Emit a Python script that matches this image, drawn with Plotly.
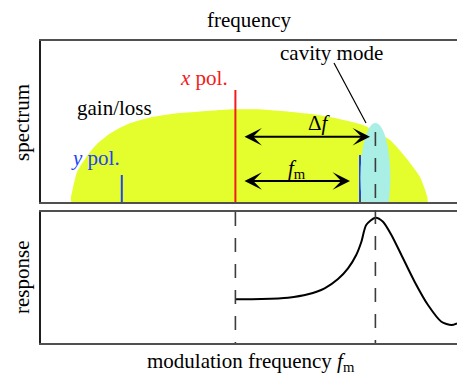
import plotly.graph_objects as go

# --- spectrum panel (frequency in arbitrary units) ---
f_ypol = 2.02      # y-polarised mode
f_xpol = 4.86      # x-polarised mode
f_ysb = 7.975      # y-polarised line at f_x + f_m
f_cav = 8.36       # cavity mode
amp_ypol = 0.27
amp_xpol = 1.12
amp_ysb = 0.47

# gain/loss profile
gain_f = [0.76, 0.8, 0.9, 1.15, 1.4, 1.725, 2.175, 2.725, 3.35, 3.975,
          4.725, 5.475, 6.15, 6.85, 7.4, 8.05, 8.725, 9.15, 9.475, 9.62, 9.66]
gain_h = [0.0, 0.14, 0.3, 0.46, 0.58, 0.685, 0.78, 0.845, 0.885, 0.905,
          0.925, 0.925, 0.905, 0.875, 0.835, 0.77, 0.62, 0.43, 0.25, 0.1, 0.0]

# --- modulation response panel ---
resp_f = [4.86, 5.51, 6.175, 6.675, 7.09, 7.425, 7.675, 7.88, 8.01, 8.13, 8.36,
          8.55, 8.76, 9.01, 9.34, 9.675, 10.01, 10.26, 10.4]
resp_v = [0.437, 0.44, 0.453, 0.487, 0.547, 0.64, 0.747, 0.88, 1.013, 1.18, 1.253,
          1.213, 1.08, 0.88, 0.613, 0.38, 0.213, 0.18, 0.197]

SERIF = "Liberation Serif"
RED = "#f21b1b"
BLUE = "#2145f5"
YELLOW = "#e4fd2c"
CYAN = "#a9efe5"

TOP = [141 / 302, 1.0]
BOT = [0.0, 131 / 302]

fig = go.Figure()

# gain/loss region
fig.add_trace(go.Scatter(
    x=gain_f + [gain_f[0]], y=gain_h + [gain_h[0]],
    mode="lines", line=dict(width=0, shape="spline", smoothing=0.5),
    fill="toself", fillcolor=YELLOW, hoverinfo="skip",
    xaxis="x", yaxis="y"))

# spectral lines
for f, a, c in [(f_ypol, amp_ypol, BLUE), (f_xpol, amp_xpol, RED), (f_ysb, amp_ysb, BLUE)]:
    fig.add_trace(go.Scatter(x=[f, f], y=[0, a], mode="lines",
                             line=dict(color=c, width=2), xaxis="x", yaxis="y"))

# modulation response
fig.add_trace(go.Scatter(
    x=resp_f, y=resp_v, mode="lines",
    line=dict(color="black", width=2, shape="spline", smoothing=0.7),
    xaxis="x2", yaxis="y2"))

shapes = [
    # cavity mode
    dict(type="circle", xref="x", yref="y", layer="above",
         x0=f_cav - 0.375, x1=f_cav + 0.375, y0=-0.3, y1=0.79,
         fillcolor=CYAN, line=dict(width=0)),
    # leader line to the cavity mode label
    dict(type="line", xref="x", yref="y", layer="above",
         x0=7.325, y0=1.39, x1=8.125, y1=0.79,
         line=dict(color="black", width=1.2)),
    # dashed markers
    dict(type="line", xref="x", yref="paper", layer="above",
         x0=f_cav, x1=f_cav, y0=0.6987, y1=0.0,
         line=dict(color="#3c3c3c", width=1.6, dash="14px,12px")),
    dict(type="line", xref="x", yref="paper", layer="above",
         x0=f_xpol, x1=f_xpol, y0=BOT[1], y1=0.0,
         line=dict(color="#3c3c3c", width=1.6, dash="14px,12px")),
]

ann = []


def arrow(x0, x1, y):
    return dict(x=x1, y=y, ax=x0, ay=y, xref="x", yref="y", axref="x", ayref="y",
                text="", showarrow=True, arrowside="end+start",
                arrowhead=3, startarrowhead=3, arrowsize=1.45, startarrowsize=1.45,
                arrowwidth=2, arrowcolor="black", standoff=0, startstandoff=0)


ann.append(arrow(5.05, 8.225, 0.653))
ann.append(arrow(5.05, 7.725, 0.21))


def label(text, x, y, color="black", xref="x", yref="y", angle=0):
    return dict(text=text, x=x, y=y, xref=xref, yref=yref, showarrow=False,
                xanchor="center", yanchor="middle", textangle=angle,
                font=dict(family=SERIF, size=21, color=color))


ann += [
    label("Δ<i>f</i>", 6.96, 0.79),
    label("<i>f</i><sub>m</sub>", 6.4, 0.33),
    label("cavity mode", 7.25, 1.49),
    label("<i>x</i> pol.", 4.075, 1.24, RED),
    label("gain/loss", 1.825, 0.94),
    label("<i>y</i> pol.", 1.3625, 0.44, BLUE),
    label("frequency", 0.5, 1.0695, xref="paper", yref="paper"),
    label("modulation frequency <i>f</i><sub>m</sub>", 0.505, -0.063, xref="paper", yref="paper"),
    label("spectrum", -0.0457, 0.732, xref="paper", yref="paper", angle=-90),
    label("response", -0.0457, 0.2185, xref="paper", yref="paper", angle=-90),
]

xax = dict(range=[0, 10.4], showgrid=False, zeroline=False, showticklabels=False,
           ticks="", showline=True, mirror=True, linecolor="#505050", linewidth=2,
           fixedrange=True)
yax = dict(showgrid=False, zeroline=False, showticklabels=False, ticks="",
           showline=True, mirror=False, linecolor="#1e1e1e", linewidth=2,
           fixedrange=True)

fig.update_layout(
    width=457, height=376,
    margin=dict(l=41, r=0, t=41, b=33),
    paper_bgcolor="white", plot_bgcolor="white",
    showlegend=False,
    font=dict(family=SERIF, size=21, color="black"),
    xaxis=dict(xax, domain=[0, 1], anchor="y"),
    yaxis=dict(yax, domain=TOP, range=[0, 1.61], anchor="x"),
    xaxis2=dict(xax, domain=[0, 1], anchor="y2"),
    yaxis2=dict(yax, domain=BOT, range=[0, 1.31], anchor="x2"),
    shapes=shapes,
    annotations=ann,
)

fig.write_html("out.html")
